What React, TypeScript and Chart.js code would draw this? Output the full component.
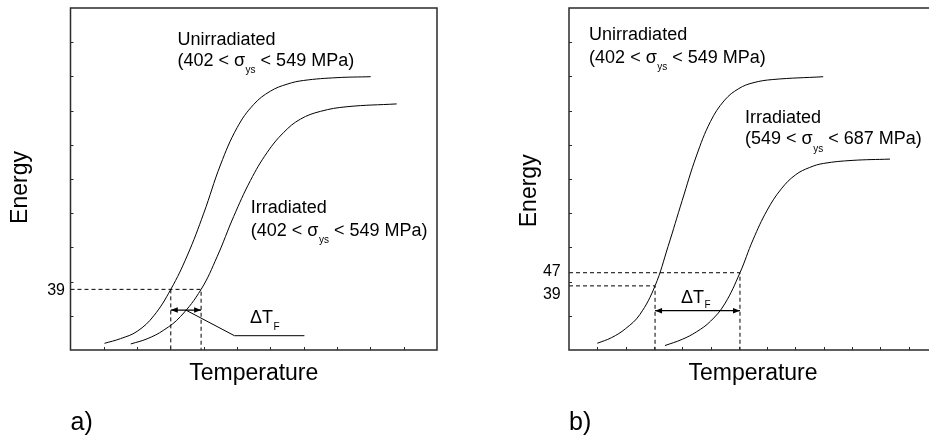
import React, { useEffect, useRef } from "react";
import { Chart, registerables } from "chart.js";

Chart.register(...registerables);

const FONT = '"Liberation Sans", Arial, Helvetica, sans-serif';

// ---------------- Panel a) ----------------
const aTempMax = 11;
const aEnergyMax = 220;
const aUnirrT = [1.02, 1.5, 2.0, 2.5, 3.01, 3.5, 4.0, 4.5, 5.0, 5.5, 6.0, 6.5, 7.0, 8.0, 9.01];
const aUnirrE = [4.3, 7.3, 12, 22, 39, 60.5, 88, 119, 143, 158, 166.5, 171, 173.4, 175.2, 175.8];
const aIrrT = [1.81, 2.3, 2.8, 3.3, 3.92, 4.4, 4.9, 5.4, 5.9, 6.4, 6.9, 7.5, 8.3, 9.79];
const aIrrE = [3.9, 7.2, 12.8, 21.5, 39, 60, 86, 109, 127, 140, 148.5, 153.5, 156.5, 158.3];
const aTickLabels = ["39"];
const aTickValues = [39];
const aDashT = [[0, 3.92, 3.92], [3.01, 3.01]];
const aDashE = [[39, 39, 0], [39, 0]];
const aArrowT = [3.01, 3.92];
const aArrowE = [25.7, 25.7];
const aLeaderT = [3.46, 4.92, 7.02];
const aLeaderE = [25.7, 9.2, 9.2];

// ---------------- Panel b) ----------------
const bTempMax = 13;
const bEnergyMax = 208;
const bUnirrT = [1.0, 1.5, 2.0, 2.5, 3.04, 3.5, 4.0, 4.5, 5.0, 5.5, 6.0, 6.5, 7.2, 8.98];
const bUnirrE = [4.1, 7.5, 13, 21.5, 39, 63, 91, 118, 139, 152, 159, 162.5, 164.5, 166.2];
const bIrrT = [3.39, 4.0, 4.5, 5.0, 5.5, 6.04, 6.5, 7.0, 7.5, 8.0, 8.5, 9.0, 10.0, 11.34];
const bIrrE = [2.7, 6.5, 11, 17.5, 28, 47, 67, 85, 98, 106.5, 111, 113.5, 115.3, 116.1];
const bTickLabels = ["47", "39"];
const bTickValues = [47, 39];
const bDashT = [[0, 6.04, 6.04], [0, 3.04, 3.04]];
const bDashE = [[47, 47, 0], [39, 39, 0]];
const bArrowT = [3.04, 6.04];
const bArrowE = [23.9, 23.9];

// text annotations (anchored in data units: temperature, energy)
type Note = { t: number; e: number; pre: string; sub?: string; post?: string };
const aNotes: Note[] = [
  { t: 3.21, e: 196.2, pre: "Unirradiated" },
  { t: 3.21, e: 183.0, pre: "(402 < σ", sub: "ys", post: " < 549 MPa)" },
  { t: 5.41, e: 87.9, pre: "Irradiated" },
  { t: 5.41, e: 73.5, pre: "(402 < σ", sub: "ys", post: " < 549 MPa)" },
];
const aDelta: Note = { t: 5.39, e: 17.2, pre: "ΔT", sub: "F" };
const bNotes: Note[] = [
  { t: 0.71, e: 188.5, pre: "Unirradiated" },
  { t: 0.71, e: 174.7, pre: "(402 < σ", sub: "ys", post: " < 549 MPa)" },
  { t: 6.22, e: 137.8, pre: "Irradiated" },
  { t: 6.22, e: 125.1, pre: "(549 < σ", sub: "ys", post: " < 687 MPa)" },
];
const bDelta: Note = { t: 3.96, e: 28.4, pre: "ΔT", sub: "F" };

type Panel = {
  tMax: number;
  eMax: number;
  curves: { t: number[]; e: number[] }[];
  dashT: number[][];
  dashE: number[][];
  arrowT: number[];
  arrowE: number[];
  leaderT?: number[];
  leaderE?: number[];
  tickLabels: string[];
  tickValues: number[];
  notes: Note[];
  delta: Note;
  letter: string;
  // style / layout
  width: number;
  padding: { left: number; right: number; top: number; bottom: number };
  tickLabelDy: number[];
  tickLabelGap: number;
  energyTitleDx: number;
  energyTitleY: number;
  deltaSubDy: number;
};

const panelA: Panel = {
  tMax: aTempMax,
  eMax: aEnergyMax,
  curves: [
    { t: aUnirrT, e: aUnirrE },
    { t: aIrrT, e: aIrrE },
  ],
  dashT: aDashT,
  dashE: aDashE,
  arrowT: aArrowT,
  arrowE: aArrowE,
  leaderT: aLeaderT,
  leaderE: aLeaderE,
  tickLabels: aTickLabels,
  tickValues: aTickValues,
  notes: aNotes,
  delta: aDelta,
  letter: "a)",
  width: 465,
  padding: { left: 70.5, right: 28, top: 8, bottom: 90 },
  tickLabelDy: [0],
  tickLabelGap: 5.5,
  energyTitleDx: -43.5,
  energyTitleY: 187.5,
  deltaSubDy: 6.5,
};

const panelB: Panel = {
  tMax: bTempMax,
  eMax: bEnergyMax,
  curves: [
    { t: bUnirrT, e: bUnirrE },
    { t: bIrrT, e: bIrrE },
  ],
  dashT: bDashT,
  dashE: bDashE,
  arrowT: bArrowT,
  arrowE: bArrowE,
  tickLabels: bTickLabels,
  tickValues: bTickValues,
  notes: bNotes,
  delta: bDelta,
  letter: "b)",
  width: 480,
  padding: { left: 105, right: 7, top: 8, bottom: 90 },
  tickLabelDy: [-2, 7.3],
  tickLabelGap: 8.3,
  energyTitleDx: -33.5,
  energyTitleY: 190.8,
  deltaSubDy: 4.5,
};

function pts(t: number[], e: number[]) {
  return t.map((v, i) => ({ x: v, y: e[i] }));
}

function drawNote(ctx: CanvasRenderingContext2D, x: number, y: number, n: Note, subDy: number) {
  ctx.textAlign = "left";
  ctx.textBaseline = "alphabetic";
  ctx.font = `18px ${FONT}`;
  ctx.fillText(n.pre, x, y);
  let cx = x + ctx.measureText(n.pre).width;
  if (n.sub) {
    ctx.font = `10px ${FONT}`;
    ctx.fillText(n.sub, cx + 0.5, y + subDy);
    cx += ctx.measureText(n.sub).width + 0.5;
  }
  if (n.post) {
    ctx.font = `18px ${FONT}`;
    ctx.fillText(n.post, cx, y);
  }
}

function makeOverlay(p: Panel) {
  return {
    id: "overlay",
    afterDatasetsDraw(chart: any) {
      const ctx: CanvasRenderingContext2D = chart.ctx;
      const { left, right, top, bottom } = chart.chartArea;
      const xs = chart.scales.x;
      const ys = chart.scales.y;
      ctx.save();
      // frame
      ctx.strokeStyle = "#2a2a2a";
      ctx.lineWidth = 1.5;
      ctx.strokeRect(left, top, right - left, bottom - top);
      // inward minor ticks
      ctx.lineWidth = 1;
      ctx.beginPath();
      for (let v = 1; v < p.tMax; v++) {
        const x = Math.round(xs.getPixelForValue(v)) + 0.5;
        ctx.moveTo(x, bottom);
        ctx.lineTo(x, bottom - 3);
      }
      for (let i = 1; i < 10; i++) {
        const y = Math.round(ys.getPixelForValue((p.eMax * i) / 10)) + 0.5;
        ctx.moveTo(left, y);
        ctx.lineTo(left + 3, y);
      }
      ctx.stroke();
      // arrow heads
      ctx.fillStyle = "#000";
      const ay = ys.getPixelForValue(p.arrowE[0]);
      const ax1 = xs.getPixelForValue(p.arrowT[0]);
      const ax2 = xs.getPixelForValue(p.arrowT[1]);
      ctx.beginPath();
      ctx.moveTo(ax1, ay);
      ctx.lineTo(ax1 + 7, ay - 2.8);
      ctx.lineTo(ax1 + 7, ay + 2.8);
      ctx.closePath();
      ctx.moveTo(ax2, ay);
      ctx.lineTo(ax2 - 7, ay - 2.8);
      ctx.lineTo(ax2 - 7, ay + 2.8);
      ctx.closePath();
      ctx.fill();
      // tick labels
      ctx.fillStyle = "#000";
      ctx.font = `16px ${FONT}`;
      ctx.textAlign = "right";
      ctx.textBaseline = "middle";
      p.tickLabels.forEach((lab, i) => {
        const y = ys.getPixelForValue(p.tickValues[i]) + p.tickLabelDy[i];
        ctx.fillText(lab, left - p.tickLabelGap, y + 1);
      });
      // notes
      p.notes.forEach((n) => {
        drawNote(ctx, xs.getPixelForValue(n.t), ys.getPixelForValue(n.e), n, 7.5);
      });
      drawNote(ctx, xs.getPixelForValue(p.delta.t), ys.getPixelForValue(p.delta.e), p.delta, p.deltaSubDy);
      // axis titles
      ctx.font = `23px ${FONT}`;
      ctx.textAlign = "center";
      ctx.textBaseline = "alphabetic";
      ctx.fillText("Temperature", (left + right) / 2, 380);
      ctx.save();
      ctx.translate(left + p.energyTitleDx, p.energyTitleY);
      ctx.rotate(-Math.PI / 2);
      ctx.fillText("Energy", 0, 0);
      ctx.restore();
      // panel letter
      ctx.font = `25px ${FONT}`;
      ctx.textAlign = "left";
      ctx.fillText(p.letter, left, 430);
      ctx.restore();
    },
  };
}

function PanelChart({ p, x }: { p: Panel; x: number }) {
  const ref = useRef<HTMLCanvasElement | null>(null);
  useEffect(() => {
    if (!ref.current) return;
    const datasets: any[] = [];
    p.curves.forEach((c) =>
      datasets.push({
        data: pts(c.t, c.e),
        borderColor: "#000",
        borderWidth: 1,
        pointRadius: 0,
        tension: 0.4,
        fill: false,
      })
    );
    p.dashT.forEach((t, i) =>
      datasets.push({
        data: pts(t, p.dashE[i]),
        borderColor: "#000",
        borderWidth: 1,
        borderDash: [4, 3],
        pointRadius: 0,
        tension: 0,
        fill: false,
      })
    );
    datasets.push({
      data: pts(p.arrowT, p.arrowE),
      borderColor: "#000",
      borderWidth: 1.2,
      pointRadius: 0,
      tension: 0,
      fill: false,
    });
    if (p.leaderT && p.leaderE) {
      datasets.push({
        data: pts(p.leaderT, p.leaderE),
        borderColor: "#000",
        borderWidth: 1,
        pointRadius: 0,
        tension: 0,
        fill: false,
      });
    }
    const chart = new Chart(ref.current, {
      type: "line",
      data: { datasets },
      options: {
        animation: false,
        responsive: false,
        devicePixelRatio: 1,
        layout: { padding: p.padding },
        plugins: { legend: { display: false }, tooltip: { enabled: false } },
        scales: {
          x: { type: "linear", min: 0, max: p.tMax, display: false },
          y: { type: "linear", min: 0, max: p.eMax, display: false },
        },
      },
      plugins: [makeOverlay(p)],
    });
    return () => chart.destroy();
  }, [p]);
  return (
    <canvas
      ref={ref}
      width={p.width}
      height={440}
      style={{ position: "absolute", left: x, top: 0, width: p.width, height: 440 }}
    />
  );
}

export default function App() {
  return (
    <div
      style={{
        position: "fixed",
        left: 0,
        top: 0,
        width: 929,
        height: 440,
        overflow: "hidden",
        background: "#fff",
      }}
    >
      <PanelChart p={panelA} x={0} />
      <PanelChart p={panelB} x={464} />
    </div>
  );
}
